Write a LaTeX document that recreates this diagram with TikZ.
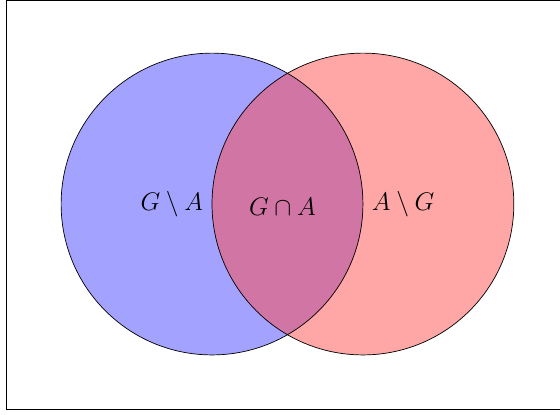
\documentclass[tikz,border=0pt]{standalone}
\usepackage{amsmath}
\usepackage{amssymb}
\usepackage{tikz}
\usetikzlibrary{positioning}

\definecolor{overlapmix}{RGB}{209,117,165}

\begin{document}
\begin{tikzpicture}[
    setG/.style={
        draw=black,
        fill=blue,
        fill opacity=0.36
    },
    setA/.style={
        draw=black,
        fill=red,
        fill opacity=0.35
    },
    region/.style={
        font=\fontsize{15.5}{18}\selectfont,
        text=black
    }
]

\useasboundingbox (-4.215,-4.175) rectangle (6.918,4.056);
\draw[line width=0.5pt] (-4.08,-4.08) rectangle (7.2,4.052);

\coordinate (cG) at (0,0);
\coordinate (cA) at (3,0);

\fill[setG, draw=none] (cG) circle (3);
\fill[setA, draw=none] (cA) circle (3);
% overlap
\begin{scope}
    \clip (cG) circle (3);
    \fill[overlapmix] (cA) circle (3);
\end{scope}
\draw (cG) circle (3);
\draw (cA) circle (3);

\node[region] (onlyG) at (-0.8,0) {$G \setminus A$};
\node[region] (both) at (1.4,-0.05) {$G \cap A$};
\node[region] (onlyA) at (3.8,0) {$A \setminus G$};

\end{tikzpicture}
\end{document}
